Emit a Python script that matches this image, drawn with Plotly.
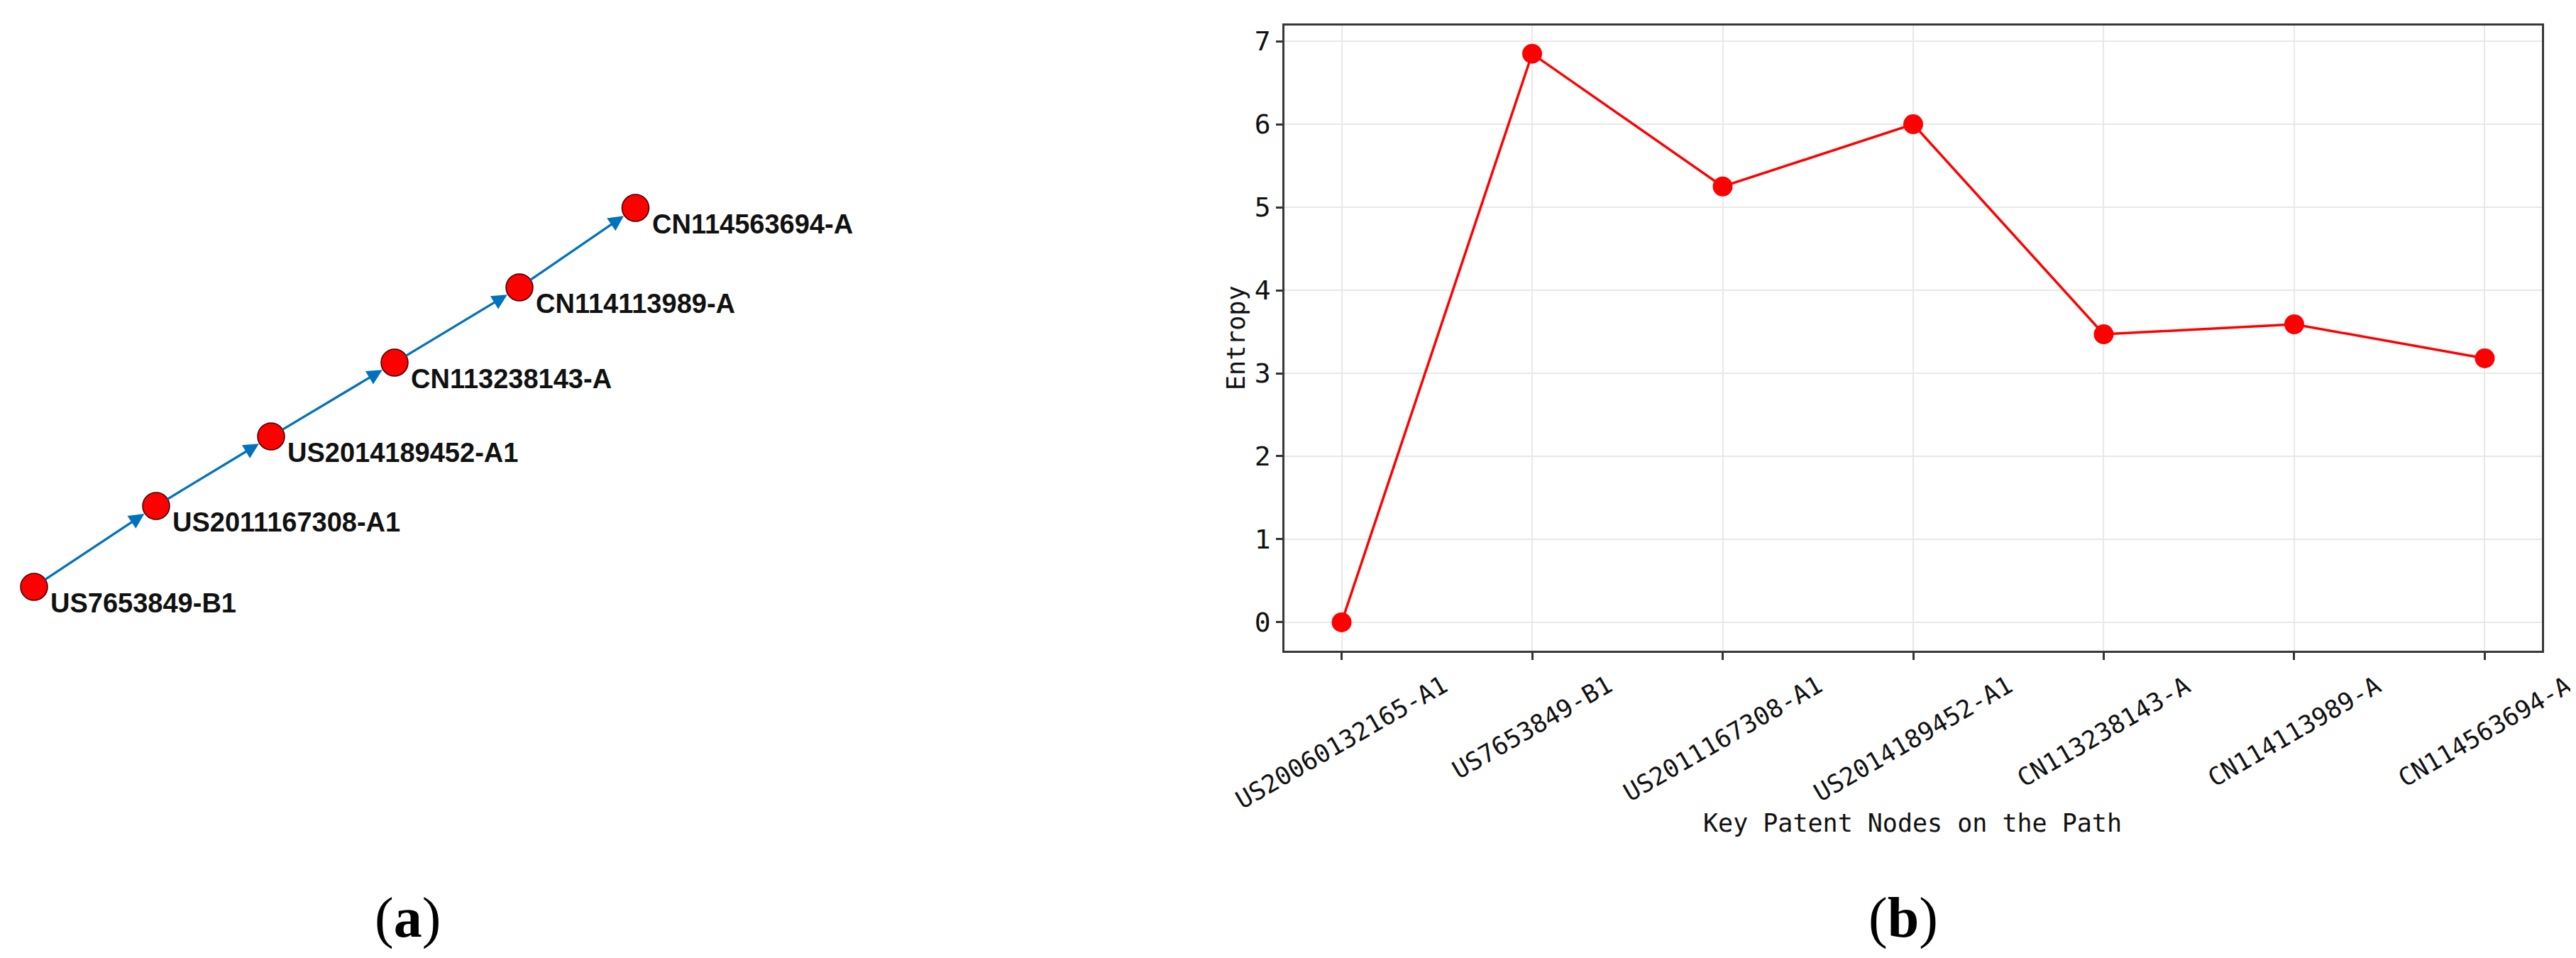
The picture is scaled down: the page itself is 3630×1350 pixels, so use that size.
import plotly.graph_objects as go

# ---------------- data ----------------
# (b) entropy along the path
path_nodes_b = ["US20060132165-A1", "US7653849-B1", "US2011167308-A1", "US2014189452-A1",
                "CN113238143-A", "CN114113989-A", "CN114563694-A"]
entropy = [0.0, 6.85, 5.25, 6.0, 3.47, 3.59, 3.18]
y_ticks = [0, 1, 2, 3, 4, 5, 6, 7]

# (a) key path network (layout coordinates of the drawn graph)
net_nodes = ["US7653849-B1", "US2011167308-A1", "US2014189452-A1",
             "CN113238143-A", "CN114113989-A", "CN114563694-A"]
node_x = [0.0, 1.72, 3.34, 5.08, 6.84, 8.475]
node_y = [0.0, 1.14, 2.12, 3.16, 4.22, 5.34]
edges = [(0, 1), (1, 2), (2, 3), (3, 4), (4, 5)]

W, H = 3630, 1350
MONO = "DejaVu Sans Mono"
RED = "#ff0000"
BLUE = "#0072BD"

fig = go.Figure()

# ---------------- (b) line chart ----------------
fig.add_trace(go.Scatter(
    x=path_nodes_b, y=entropy, mode="lines+markers",
    line=dict(color=RED, width=3.5),
    marker=dict(color=RED, size=28),
    xaxis="x", yaxis="y", showlegend=False, hoverinfo="x+y"))

# ---------------- (a) network ----------------
fig.add_trace(go.Scatter(
    x=node_x, y=node_y, mode="markers",
    marker=dict(color=RED, size=38, line=dict(color="#3a0000", width=1.5)),
    xaxis="x2", yaxis="y2", showlegend=False, hoverinfo="text", text=net_nodes))

annotations = []
for s, t in edges:
    annotations.append(dict(
        x=node_x[t], y=node_y[t], ax=node_x[s], ay=node_y[s],
        xref="x2", yref="y2", axref="x2", ayref="y2",
        showarrow=True, arrowhead=2, arrowsize=1.3, arrowwidth=3.3,
        arrowcolor=BLUE, standoff=20, startstandoff=17, text=""))

for name, nx, ny in zip(net_nodes, node_x, node_y):
    annotations.append(dict(
        x=nx, y=ny, xref="x2", yref="y2", text="<b>" + name + "</b>",
        showarrow=False, xanchor="left", yanchor="middle",
        xshift=21, yshift=-23,
        font=dict(family="Liberation Sans, Arial, sans-serif", size=38, color="#111111")))

# rotated category labels for (b), centred under each tick
for name in path_nodes_b:
    annotations.append(dict(
        x=name, y=1 - 934 / H, xref="x", yref="paper", text=name,
        showarrow=False, textangle=-30, xanchor="center", yanchor="top",
        font=dict(family=MONO, size=35, color="#111111")))

# axis titles
annotations.append(dict(
    x=1734 / W, y=1 - 468 / H, xref="paper", yref="paper", text="Entropy",
    showarrow=False, textangle=-90, xanchor="center", yanchor="middle",
    font=dict(family=MONO, size=35, color="#111111")))
annotations.append(dict(
    x=2687 / W, y=1 - 1152 / H, xref="paper", yref="paper",
    text="Key Patent Nodes on the Path",
    showarrow=False, xanchor="center", yanchor="middle",
    font=dict(family=MONO, size=35, color="#111111")))

# panel labels
for lab, px in (("(<b>a</b>)", 566.5), ("(<b>b</b>)", 2673.5)):
    annotations.append(dict(
        x=px / W, y=1 - 1285 / H, xref="paper", yref="paper", text=lab,
        showarrow=False, xanchor="center", yanchor="middle",
        font=dict(family="Liberation Serif, Times New Roman, serif", size=80, color="#000000")))

ymin, ymax = -0.3425, 7.1925

fig.update_layout(
    width=W, height=H, autosize=False,
    margin=dict(l=0, r=0, t=0, b=0, pad=0),
    paper_bgcolor="white", plot_bgcolor="white",
    showlegend=False,
    xaxis=dict(
        domain=[1802 / W, 3574 / W], anchor="y", type="category",
        range=[-0.3, 6.3], showticklabels=False,
        ticks="outside", ticklen=10, tickwidth=2.5, tickcolor="#333333",
        showgrid=True, gridcolor="#e8e8e8", gridwidth=2.2,
        showline=True, linecolor="#383838", linewidth=2.7, mirror=True,
        zeroline=False),
    yaxis=dict(
        domain=[1 - 909 / H, 1 - 27.6 / H], anchor="x",
        range=[ymin, ymax], tickvals=y_ticks,
        ticks="outside", ticklen=9, tickwidth=2.5, tickcolor="#333333",
        tickfont=dict(family=MONO, size=38, color="#111111"),
        showgrid=True, gridcolor="#e8e8e8", gridwidth=2.2,
        showline=True, linecolor="#383838", linewidth=2.7, mirror=True,
        zeroline=False),
    xaxis2=dict(
        domain=[0, 1250 / W], anchor="y2", range=[-0.40, 12.10],
        visible=False, showgrid=False, zeroline=False),
    yaxis2=dict(
        domain=[1 - 880 / H, 1 - 230 / H], anchor="x2", range=[-0.61, 5.89],
        visible=False, showgrid=False, zeroline=False),
    annotations=annotations,
)

fig.write_html("out.html")
